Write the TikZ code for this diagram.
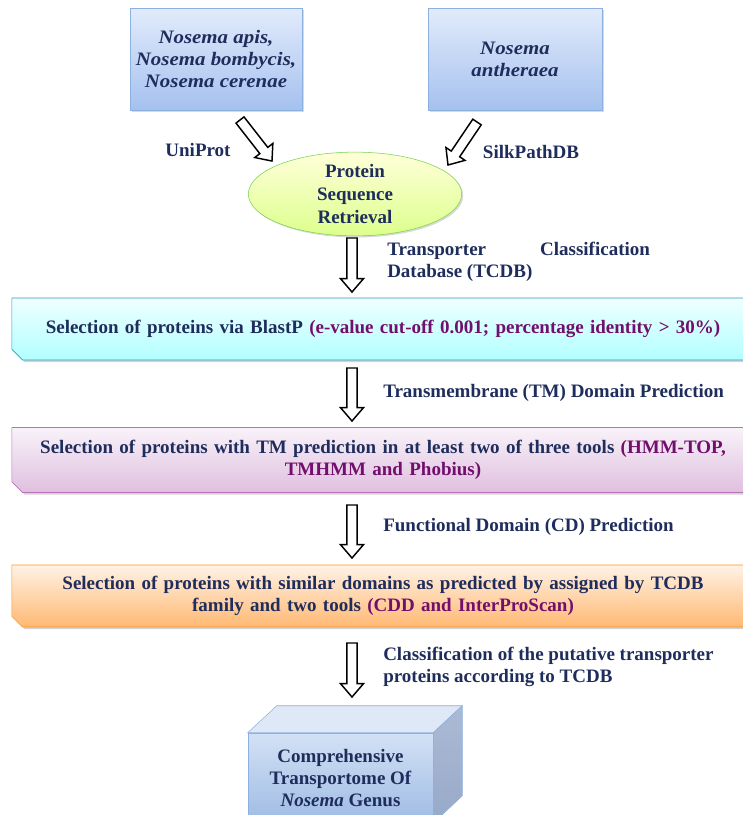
\documentclass[tikz,border=0pt]{standalone}
\usepackage{fontspec}
\setmainfont{Liberation Serif}
\usetikzlibrary{shapes.geometric,shapes.misc,shadows,calc}

\definecolor{navy}{HTML}{1F2D5C}
\definecolor{plum}{HTML}{720F6C}
\definecolor{speciestop}{HTML}{E2EBFB}
\definecolor{speciesbottom}{HTML}{A5C1EF}
\definecolor{speciesline}{HTML}{8CB0E0}
\definecolor{cubetop}{HTML}{D3E1F5}
\definecolor{cubebottom}{HTML}{9EBBE4}
\definecolor{cubelid}{HTML}{DEE8F6}
\definecolor{cubeside}{HTML}{97A9C9}

% hollow block arrow from #1 to #2
\newcommand{\shaftw}{3.8pt}
\newcommand{\headw}{8.6pt}
\newcommand{\headl}{10pt}
\newcommand{\blockarrow}[2]{%
  \coordinate (ba-hb) at ($(#2)!\headl!(#1)$);
  \draw[block arrow]
    ($(#1)!\shaftw!90:(#2)$) -- ($(ba-hb)!\shaftw!-90:(#1)$)
    -- ($(ba-hb)!\headw!-90:(#1)$) -- (#2)
    -- ($(ba-hb)!\headw!90:(#1)$) -- ($(ba-hb)!\shaftw!90:(#1)$)
    -- ($(#1)!\shaftw!-90:(#2)$) -- cycle;
}

\tikzset{%
  every label text/.style={
    font=\fontsize{14.25}{16.8}\selectfont\bfseries,
    text=navy
  },
  block arrow/.style={
    draw=black,
    fill=white,
    line width=1.1pt,
    line join=miter
  },
  species/.style={
    rectangle,
    draw=speciesline,
    top color=speciestop,
    bottom color=speciesbottom,
    minimum width=129pt,
    minimum height=76.5pt,
    inner sep=1pt,
    align=center,
    every label text/.try,
    font=\fontsize{14.25}{16.5}\selectfont\bfseries\itshape\addfontfeatures{FakeStretch=1.1},
    drop shadow={shadow xshift=1.2pt,shadow yshift=-1.2pt,opacity=0.3}
  },
  retrieval/.style={
    ellipse,
    draw=green!50!olive!70,
    top color=yellow!15!white,
    bottom color=green!30!yellow!45,
    minimum width=160pt,
    minimum height=52.5pt,
    inner sep=0pt,
    align=center,
    every label text/.try,
    font=\fontsize{14.25}{17.2}\selectfont\bfseries,
    drop shadow={shadow xshift=1.2pt,shadow yshift=-1.2pt,opacity=0.3}
  },
  stage/.style={
    chamfered rectangle,
    chamfered rectangle corners={north east,south west},
    chamfered rectangle xsep=5pt,
    minimum width=553.5pt,
    text width=540pt,
    align=center,
    every label text/.try,
    drop shadow={shadow xshift=1.5pt,shadow yshift=-1.5pt,opacity=0.35}
  },
  stage blast/.style={
    draw=cyan!60!teal,
    top color=cyan!6,
    bottom color=cyan!30,
    minimum height=46.5pt
  },
  stage tm/.style={
    draw=violet!55,
    top color=violet!5,
    bottom color=violet!25,
    minimum height=48.75pt
  },
  stage cd/.style={
    draw=orange!85,
    top color=orange!10,
    bottom color=orange!55,
    minimum height=46.5pt
  },
  step label/.style={
    every label text/.try,
    anchor=west,
    inner sep=0pt,
    align=left
  },
  cube front/.style={
    rectangle,
    draw=speciesline,
    top color=cubetop,
    bottom color=cubebottom,
    minimum width=138.75pt,
    minimum height=67.5pt,
    align=center,
    every label text/.try
  },
}

\begin{document}
\begin{tikzpicture}[x=0.75pt, y=-0.75pt]

\useasboundingbox (0,0) rectangle (743,815);
\clip (0,0) rectangle (743,815);

% sources
\node [species] (apis) at (216,59)
  {Nosema apis,\\ Nosema bombycis,\\ Nosema cerenae};
\node [species, minimum width=130.5pt] (antheraea) at (515,59)
  {Nosema\\ antheraea};

\node [retrieval] (retrieval) at (355,194) {Protein\\ Sequence\\ Retrieval};

\coordinate (uni-s) at (240,120);
\coordinate (uni-e) at (272,161);
\coordinate (silk-s) at (477,122);
\coordinate (silk-e) at (448,165);
\blockarrow{uni-s}{uni-e}
\blockarrow{silk-s}{silk-e}

\node [every label text/.try] (uniprot) at (198,150) {UniProt};
\node [every label text/.try] (silkpath) at (531,152) {SilkPathDB};

% pipeline
\node [stage, stage blast] (blastp) at (383,329)
  {Selection of proteins via BlastP {\color{plum}(e-value cut-off 0.001; percentage identity > 30\%)}};
\node [stage, stage tm] (tmpred) at (383,460)
  {Selection of proteins with TM prediction in at least two of three tools {\color{plum}(HMM-TOP,}\\
   {\color{plum}TMHMM and Phobius)}};
\node [stage, stage cd] (cdpred) at (383,596)
  {Selection of proteins with similar domains as predicted by assigned by TCDB\\
   family and two tools {\color{plum}(CDD and InterProScan)}};

\foreach \n/\ys/\ye in {1/238/292, 2/368/421, 3/505/558, 4/643/697} {
  \coordinate (down\n-s) at (352,\ys);
  \coordinate (down\n-e) at (352,\ye);
  \blockarrow{down\n-s}{down\n-e}
}

\node [step label, text width=197pt, align=justify] (tcdb) at (387,262)
  {Transporter Classification Database (TCDB)};
\node [step label] (tmlabel) at (383,393) {Transmembrane (TM) Domain Prediction};
\node [step label] (cdlabel) at (383,527) {Functional Domain (CD) Prediction};
\node [step label] (classlabel) at (383,667)
  {Classification of the putative transporter\\ proteins according to TCDB};

% result cube
\node [cube front] (cube) at (340.5,778)
  {Comprehensive\\ Transportome Of\\ \textit{Nosema} Genus};
\draw [draw=speciesline, fill=cubelid]
  (cube.north west) -- ++(29,-27) -- ($(cube.north east)+(29,-27)$)
  -- (cube.north east) -- cycle;
\draw [draw=speciesline, top color=cubeside!80, bottom color=cubeside]
  (cube.north east) -- ++(29,-27) -- ++(0,90) -- (cube.south east) -- cycle;

\end{tikzpicture}
\end{document}
